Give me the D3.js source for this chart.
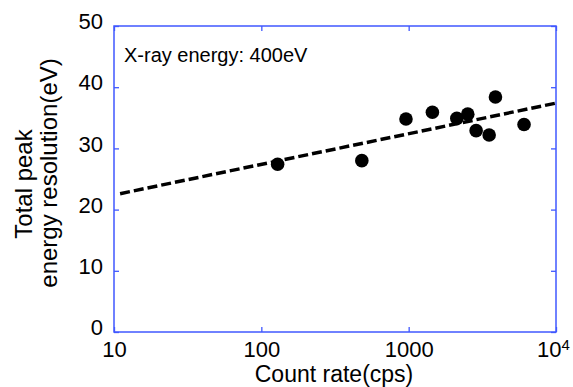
<!DOCTYPE html>
<html>
<head>
<meta charset="utf-8">
<script src="https://d3js.org/d3.v7.min.js"></script>
<style>
  body { margin: 0; background: #fff; }
  text { font-family: Arial, "Liberation Sans", Helvetica, sans-serif; fill: #000; }
</style>
</head>
<body>
<div id="chart"></div>
<script>
// measured points
var countRate = [129, 481, 959, 1449, 2123, 2518, 2870, 3518, 3882, 6067];
var resolution = [27.4, 28.0, 34.8, 35.9, 34.9, 35.6, 32.9, 32.2, 38.4, 33.9];
// dashed fit line
var fitRate = [11, 10000];
var fitRes = [22.6, 37.4];
// ticks
var xTicks = [10, 100, 1000, 10000];
var yTicks = [0, 10, 20, 30, 40, 50];

const W = 573, H = 387;
const margin = { top: 26, right: 17, bottom: 55, left: 114 },
    width = W - margin.left - margin.right,
    height = H - margin.top - margin.bottom;
const frameColor = "#4058ff";

var svg = d3.select("#chart").append("svg")
    .attr("width", W).attr("height", H);
var g = svg.append("g")
    .attr("transform", `translate(${margin.left}, ${margin.top})`);

var x = d3.scaleLog().domain([10, 10000]).range([0, width]);
var y = d3.scaleLinear().domain([0, 50]).range([height, 0]);

//axes with inward ticks
function styleAxis(sel) {
    sel.select(".domain").remove();
    sel.selectAll(".tick line").attr("stroke", frameColor).attr("stroke-width", 1.3);
}

var xb = g.append("g")
    .attr("transform", `translate(0, ${height})`)
    .call(d3.axisBottom(x).tickValues(xTicks).tickSize(-5).tickPadding(9)
        .tickFormat(d => d === 10000 ? "" : d3.format("d")(d)));
styleAxis(xb);
xb.selectAll("text").attr("font-size", 22).attr("font-family", null);
// 10^4 label
var sup = xb.selectAll(".tick").filter(d => d === 10000).select("text");
sup.append("tspan").text("10");
sup.append("tspan").attr("dy", "-0.45em").attr("font-size", 15).text("4");
sup.attr("x", -3);

g.append("g")
    .call(d3.axisTop(x).tickValues(xTicks).tickSize(-5).tickFormat(""))
    .call(styleAxis);

var yl = g.append("g")
    .call(d3.axisLeft(y).tickValues(yTicks).tickSize(-5).tickPadding(11));
styleAxis(yl);
yl.selectAll("text").attr("font-size", 22).attr("dy", "0.12em").attr("font-family", null);

g.append("g")
    .attr("transform", `translate(${width}, 0)`)
    .call(d3.axisRight(y).tickValues(yTicks).tickSize(-5).tickFormat(""))
    .call(styleAxis);

// frame
g.append("rect")
    .attr("width", width).attr("height", height)
    .attr("fill", "none").attr("stroke", frameColor).attr("stroke-width", 1.5);

// fit line
var fit = fitRate.map((d, i) => ({ rate: d, res: fitRes[i] }));
g.append("path")
    .datum(fit)
    .attr("d", d3.line().x(d => x(d.rate)).y(d => y(d.res)))
    .attr("fill", "none")
    .attr("stroke", "#000")
    .attr("stroke-width", 3.5)
    .attr("stroke-dasharray", "10,4");

// points
var pts = countRate.map((d, i) => ({ rate: d, res: resolution[i] }));
g.selectAll("circle.pt")
    .data(pts)
    .enter()
    .append("circle")
    .attr("class", "pt")
    .attr("cx", d => x(d.rate))
    .attr("cy", d => y(d.res))
    .attr("r", 6.8)
    .attr("fill", "#000");

// annotation
g.append("text")
    .attr("x", 10).attr("y", 36)
    .attr("font-size", 20)
    .text("X-ray energy: 400eV");

// x label
svg.append("text")
    .attr("text-anchor", "middle")
    .attr("x", 334).attr("y", 382)
    .attr("font-size", 23)
    .text("Count rate(cps)");

// y label (two lines)
svg.append("text")
    .attr("text-anchor", "middle")
    .attr("transform", "translate(32, 184) rotate(-90)")
    .attr("font-size", 24)
    .text("Total peak");
svg.append("text")
    .attr("text-anchor", "middle")
    .attr("transform", "translate(57, 173) rotate(-90)")
    .attr("font-size", 24)
    .text("energy resolution(eV)");
</script>
</body>
</html>
